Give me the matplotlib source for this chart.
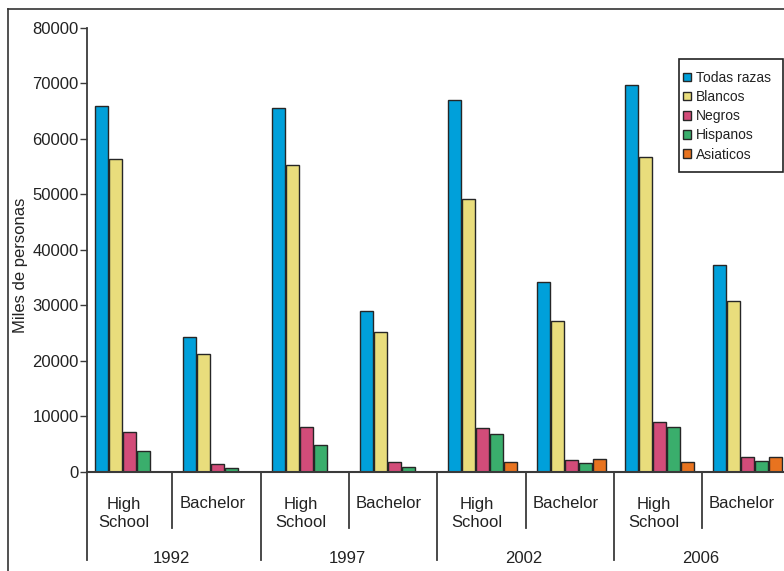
import numpy as np
import matplotlib
matplotlib.use("Agg")
import matplotlib.pyplot as plt
from matplotlib.patches import Patch, Rectangle
from matplotlib.lines import Line2D

# ---------------- data ----------------
years = ["1992", "1997", "2002", "2006"]
levels = ["High\nSchool", "Bachelor"]
series = ["Todas razas", "Blancos", "Negros", "Hispanos", "Asiaticos"]

todas     = [65900, 24200, 65500, 28900, 66900, 34200, 69600, 37300]
blancos   = [56300, 21200, 55200, 25100, 49100, 27100, 56700, 30800]
negros    = [7200, 1350, 8100, 1800, 7800, 2100, 9000, 2550]
hispanos  = [3700, 580, 4800, 900, 6700, 1500, 8100, 1950]
asiaticos = [None, None, None, None, 1700, 2250, 1700, 2600]

yticks = [0, 10000, 20000, 30000, 40000, 50000, 60000, 70000, 80000]
ylabel = "Miles de personas"

colors = ["#00a0da", "#e9dd7c", "#d24c79", "#3aae6c", "#e8731f"]

# ---------------- figure ----------------
plt.rcParams["font.family"] = ["Liberation Sans", "DejaVu Sans"]
W, H = 784, 571
fig = plt.figure(figsize=(W / 100, H / 100), dpi=100)

ax_left, ax_right = 87, 784
ax_top, ax_bottom = 27.7, 471.5
ax = fig.add_axes([ax_left / W, (H - ax_bottom) / H,
                   (ax_right - ax_left) / W, (ax_bottom - ax_top) / H])

cat_px = 88.3            # pixel pitch of categories
slot = 14.0 / cat_px     # slot per bar
bw = 13.0 / cat_px       # bar width
x0 = -8.0 / cat_px       # axis position relative to first bar start
x1 = (784 - 95) / cat_px

data = [todas, blancos, negros, hispanos, asiaticos]
ncat = len(todas)
for j, (vals, col, name) in enumerate(zip(data, colors, series)):
    xs = [i + j * slot for i in range(ncat) if vals[i] is not None]
    hs = [v for v in vals if v is not None]
    ax.bar(xs, hs, width=bw, align="edge", color=col, edgecolor="#262626",
           linewidth=1.0, label=name, zorder=2)

ax.set_xlim(x0, x1)
ax.set_ylim(0, 80000)
ax.set_yticks(yticks)
ax.set_yticklabels([str(t) for t in yticks])
ax.set_xticks([])
for s in ["top", "right"]:
    ax.spines[s].set_visible(False)
ax.spines["left"].set_color("#3a3a3a")
ax.spines["left"].set_linewidth(1.3)
ax.spines["bottom"].set_color("#3a3a3a")
ax.spines["bottom"].set_linewidth(1.5)
ax.spines["bottom"].set_zorder(3)
ax.tick_params(axis="y", length=5, width=1.0, color="#3a3a3a",
               labelsize=12, labelcolor="#222222", pad=1)
ax.set_ylabel(ylabel, fontsize=12, color="#222222")
ax.yaxis.set_label_coords(-(87 - 28.5) / (784 - 87), (471.5 - 265) / 443.8)

# separators below the axis
tr = ax.get_xaxis_transform()
axh = ax_bottom - ax_top
long_y = -(560 - ax_bottom) / axh
short_y = -(527.5 - ax_bottom) / axh
for i in range(ncat):
    xsep = x0 if i == 0 else i - 11.0 / cat_px
    yend = long_y if i % 2 == 0 else short_y
    ax.add_line(Line2D([xsep, xsep], [0, yend], transform=tr, color="#3a3a3a",
                       linewidth=1.3, clip_on=False))

# category labels
for i in range(ncat):
    ycen = 513.5 if i % 2 == 0 else 503
    ax.text(i + 29.0 / cat_px, -(ycen - ax_bottom) / axh,
            levels[i % 2], transform=tr, ha="center", va="center",
            fontsize=12, color="#222222", linespacing=1.3, multialignment="center")

# year labels
for k, yr in enumerate(years):
    ax.text(2 * k + 0.86, -(558.5 - ax_bottom) / axh, yr, transform=tr,
            ha="center", va="center", fontsize=12, color="#222222")

# legend (items) + frame drawn separately
handles = [Patch(facecolor=c, edgecolor="#262626", linewidth=1.0) for c in colors]
leg = fig.legend(handles, series, loc="upper left",
                 bbox_to_anchor=(683 / W, 1 - 71 / H), bbox_transform=fig.transFigure,
                 fontsize=10, frameon=False,
                 handlelength=0.55, handleheight=0.55, handletextpad=0.4,
                 borderpad=0, labelspacing=0.37, borderaxespad=0)
for t in leg.get_texts():
    t.set_color("#222222")
fig.add_artist(Rectangle((679 / W, 1 - 172 / H), (783 - 679) / W, (172 - 59) / H,
                         transform=fig.transFigure, facecolor="none",
                         edgecolor="#222222", linewidth=1.2))

# outer frame (left and top edges visible)
fig.add_artist(Line2D([7.5 / W, 7.5 / W], [-0.01, 1 - 9.3 / H], transform=fig.transFigure,
                      color="#333333", linewidth=1.2))
fig.add_artist(Line2D([7.5 / W, 1.01], [1 - 9.3 / H, 1 - 9.3 / H], transform=fig.transFigure,
                      color="#333333", linewidth=1.2))

fig.savefig("out.png", dpi=100)
